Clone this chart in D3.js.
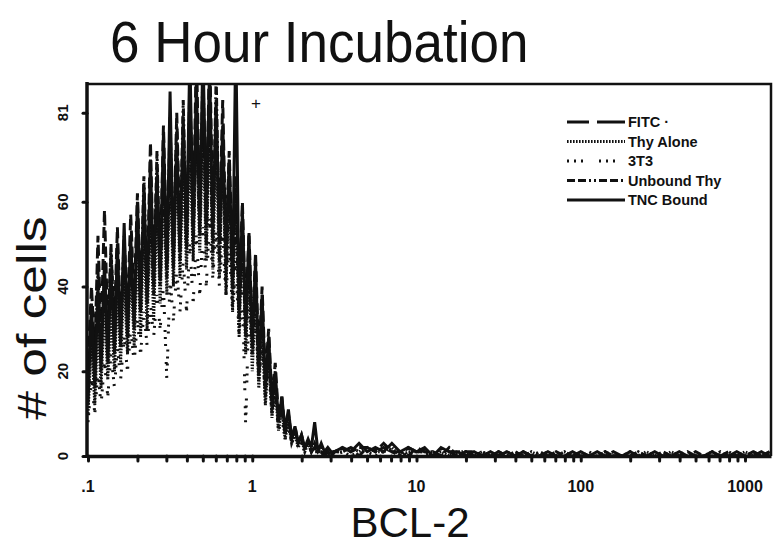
<!DOCTYPE html>
<html>
<head>
<meta charset="utf-8">
<script src="https://d3js.org/d3.v7.min.js"></script>
<style>
  body { margin: 0; background: #fff; }
  svg { display: block; }
  text { font-family: "Liberation Sans", Arial, sans-serif; fill: #111; }
</style>
</head>
<body>
<svg id="chart" width="773" height="546"></svg>
<script>
// BCL-2 fluorescence channels (log scale), fine steps over the peak, coarser tail
var bcl2 = [
  0.100, 0.105, 0.110, 0.115, 0.120, 0.126, 0.132, 0.138, 0.145, 0.151,
  0.158, 0.166, 0.174, 0.182, 0.191, 0.200, 0.209, 0.219, 0.229, 0.240,
  0.251, 0.263, 0.275, 0.288, 0.302, 0.316, 0.331, 0.347, 0.363, 0.380,
  0.398, 0.417, 0.437, 0.457, 0.479, 0.501, 0.525, 0.550, 0.575, 0.603,
  0.631, 0.661, 0.692, 0.724, 0.759, 0.794, 0.832, 0.871, 0.912, 0.955,
  1.000, 1.047, 1.096, 1.148, 1.202, 1.259, 1.318, 1.380, 1.445, 1.514,
  1.585, 1.660, 1.738, 1.820, 1.905, 1.995, 2.089, 2.188, 2.291, 2.399,
  2.512, 2.630, 2.754, 2.884, 3.020, 3.162,
  3.55, 3.98, 4.47, 5.01, 5.62, 6.31, 7.08, 7.94, 8.91, 10.0,
  11.2, 12.6, 14.1, 15.8, 17.8, 20.0, 22.4, 25.1, 28.2, 31.6,
  35.5, 39.8, 44.7, 50.1, 56.2, 63.1, 70.8, 79.4, 89.1, 100,
  112, 126, 141, 158, 178, 200, 224, 251, 282, 316,
  355, 398, 447, 501, 562, 631, 708, 794, 891, 1000,
  1122, 1259, 1413
];

// # of cells per channel, one array per sample
var fitc = [
  22, 40, 24, 52, 28, 58, 30, 48, 32, 54,
  30, 50, 34, 57, 36, 62, 38, 58, 40, 74,
  42, 68, 44, 78, 46, 70, 48, 81, 50, 76,
  52, 84, 54, 96, 56, 86, 54, 97, 56, 80,
  52, 84, 48, 72, 44, 66, 38, 60, 32, 53,
  28, 48, 22, 40, 18, 30, 13, 22, 9, 14,
  6, 10, 4, 7, 3, 5, 2, 3, 1, 2, 1, 1, 0, 1, 0, 1,
  1, 2, 0, 2, 1, 3, 1, 1, 0, 2,
  1, 1, 0, 1, 0, 1, 1, 0, 0, 1,
  0, 0, 1, 0, 0, 1, 0, 0, 0, 1,
  0, 0, 0, 1, 0, 0, 1, 0, 0, 0,
  0, 0, 1, 0, 0, 0, 0, 1, 0, 0,
  1, 0, 0
];
var thyAlone = [
  10, 28, 12, 32, 16, 36, 18, 34, 20, 40,
  22, 42, 24, 46, 26, 50, 28, 54, 30, 58,
  32, 60, 36, 64, 38, 68, 40, 72, 42, 70,
  44, 76, 46, 80, 48, 78, 46, 82, 44, 76,
  42, 72, 38, 68, 34, 64, 28, 56, 24, 46,
  20, 38, 16, 30, 12, 24, 9, 16, 6, 11,
  4, 8, 3, 5, 2, 4, 1, 3, 1, 2, 1, 1, 0, 1, 0, 1,
  1, 2, 1, 2, 1, 1, 2, 0, 1, 1,
  1, 0, 1, 0, 1, 1, 0, 1, 0, 0,
  1, 0, 0, 1, 0, 0, 0, 1, 0, 0,
  0, 0, 1, 0, 0, 0, 0, 1, 0, 0,
  1, 0, 0, 0, 0, 1, 0, 0, 0, 1,
  0, 0, 1
];
var t3t3 = [
  8, 18, 10, 20, 12, 22, 14, 24, 16, 26,
  18, 28, 20, 30, 22, 32, 24, 34, 26, 36,
  28, 38, 30, 40, 18, 42, 32, 44, 34, 46,
  34, 50, 36, 52, 38, 54, 40, 56, 42, 54,
  40, 52, 38, 50, 34, 46, 28, 40, 7, 36,
  24, 32, 18, 26, 14, 20, 10, 14, 6, 9,
  4, 7, 3, 5, 2, 3, 1, 2, 1, 1, 1, 1, 0, 1, 0, 0,
  1, 0, 1, 1, 0, 1, 0, 1, 0, 1,
  0, 1, 0, 0, 1, 0, 0, 1, 0, 0,
  0, 1, 0, 0, 0, 0, 1, 0, 0, 0,
  1, 0, 0, 0, 0, 0, 1, 0, 0, 0,
  0, 1, 0, 0, 0, 0, 0, 1, 0, 0,
  0, 0, 1
];
var unboundThy = [
  16, 34, 18, 44, 22, 42, 24, 50, 26, 46,
  28, 52, 30, 48, 32, 56, 34, 66, 36, 62,
  38, 72, 40, 70, 42, 80, 44, 78, 46, 84,
  48, 88, 50, 82, 52, 92, 50, 86, 48, 90,
  46, 76, 42, 66, 38, 62, 32, 54, 28, 48,
  24, 42, 18, 34, 14, 26, 10, 18, 7, 12,
  5, 9, 4, 6, 3, 4, 2, 3, 1, 3, 1, 2, 1, 1, 0, 1,
  2, 1, 2, 2, 1, 2, 1, 0, 2, 1,
  1, 1, 0, 2, 0, 1, 0, 1, 0, 1,
  0, 1, 0, 0, 1, 0, 1, 0, 0, 1,
  0, 0, 1, 0, 0, 1, 0, 0, 0, 1,
  0, 0, 0, 1, 0, 0, 1, 0, 0, 0,
  1, 0, 1
];
var tncBound = [
  12, 36, 16, 40, 20, 46, 22, 44, 24, 50,
  26, 55, 28, 52, 30, 60, 34, 64, 36, 70,
  40, 66, 42, 76, 44, 86, 46, 74, 48, 80,
  50, 95, 52, 88, 54, 96, 56, 92, 52, 84,
  50, 78, 46, 70, 40, 99, 34, 58, 30, 52,
  26, 46, 20, 38, 16, 28, 12, 20, 8, 14,
  6, 11, 4, 7, 3, 5, 2, 4, 2, 8, 1, 3, 1, 2, 1, 1,
  2, 1, 3, 1, 2, 1, 3, 1, 2, 1,
  2, 0, 2, 1, 1, 0, 1, 0, 1, 0,
  1, 0, 1, 0, 0, 1, 0, 0, 1, 0,
  0, 1, 0, 0, 0, 1, 0, 0, 1, 0,
  0, 1, 0, 0, 0, 1, 0, 0, 1, 0,
  0, 1, 0
];

var seriesNames = ["FITC \u00b7", "Thy Alone", "3T3", "Unbound Thy", "TNC Bound"];
var seriesValues = [fitc, thyAlone, t3t3, unboundThy, tncBound];
var seriesDash = ["11,5", "1.6,1.4", "2,5,2,5,2,16", "8,3,8,3,2,3,2,3", null];

var xTicks = [0.1, 1, 10, 100, 1000];
var xTickLabels = [".1", "1", "10", "100", "1000"];
var xMinorTicks = [0.2, 0.3, 0.4, 0.5, 0.6, 0.7, 0.8, 0.9,
                   2, 3, 4, 5, 6, 7, 8, 9,
                   20, 30, 40, 50, 60, 70, 80, 90,
                   200, 300, 400, 500, 600, 700, 800, 900];
var yTicks = [0, 20, 40, 60, 81];

// plot frame
var plotLeft = 87, plotRight = 771, plotTop = 84, plotBottom = 456;

var svg = d3.select("#chart");
var x = d3.scaleLog().domain([0.1, 1440]).range([plotLeft + 1, plotRight]);
var y = d3.scaleLinear().domain([0, 87.8]).range([plotBottom, plotTop]);

svg.append("clipPath").attr("id", "plotclip")
  .append("rect").attr("x", plotLeft).attr("y", plotTop)
  .attr("width", plotRight - plotLeft).attr("height", plotBottom - plotTop);

// histogram lines
var line = d3.line()
  .x(function(d) { return x(d[0]); })
  .y(function(d) { return y(d[1]); });

var plot = svg.append("g").attr("clip-path", "url(#plotclip)");
seriesValues.forEach(function(vals, k) {
  var pts = bcl2.slice(0, vals.length).map(function(b, i) { return [b, vals[i]]; });
  plot.append("path")
    .datum(pts)
    .attr("d", line)
    .attr("fill", "none")
    .attr("stroke", "#111")
    .attr("stroke-width", 3)
    .attr("stroke-dasharray", seriesDash[k]);
});

// frame top and right
svg.append("path")
  .attr("d", "M" + plotLeft + "," + plotTop + "H" + plotRight + "V" + plotBottom)
  .attr("fill", "none").attr("stroke", "#111").attr("stroke-width", 2.5);

// x axis
var xAxis = svg.append("g")
  .attr("transform", "translate(0," + plotBottom + ")")
  .call(d3.axisBottom(x).tickValues(xMinorTicks.concat(xTicks))
    .tickSize(5).tickSizeOuter(0).tickFormat(""));
xAxis.select(".domain").attr("stroke", "#111").attr("stroke-width", 3.5);
xAxis.selectAll(".tick line").attr("stroke", "#111").attr("stroke-width", 3)
  .attr("stroke-linecap", "round");

svg.append("g").selectAll("text")
  .data(xTicks)
  .enter().append("text")
  .attr("x", function(d) { return x(d); })
  .attr("y", 492)
  .attr("text-anchor", "middle")
  .attr("font-size", 16)
  .attr("font-weight", "bold")
  .text(function(d, i) { return xTickLabels[i]; });

// y axis
var yAxis = svg.append("g")
  .attr("transform", "translate(" + plotLeft + ",0)")
  .call(d3.axisLeft(y).tickValues(yTicks).tickSize(4).tickSizeOuter(0).tickFormat(""));
yAxis.select(".domain").attr("stroke", "#111").attr("stroke-width", 3.5)
  .attr("d", "M0," + (plotTop - 2) + "V" + plotBottom);
yAxis.selectAll(".tick line").attr("stroke", "#111").attr("stroke-width", 3)
  .attr("stroke-linecap", "round");

svg.append("g").selectAll("text")
  .data(yTicks)
  .enter().append("text")
  .attr("transform", function(d) { return "translate(68," + y(d) + ") rotate(-90)"; })
  .attr("text-anchor", "middle")
  .attr("font-size", 15)
  .attr("font-weight", "bold")
  .text(function(d) { return d; });

// titles
svg.append("text")
  .attr("transform", "translate(110,62) scale(1,1.08)")
  .attr("font-size", 53)
  .text("6 Hour Incubation");

svg.append("text")
  .attr("transform", "translate(46,318) rotate(-90) scale(1.12,0.9)")
  .attr("text-anchor", "middle")
  .attr("font-size", 46)
  .text("# of cells");

svg.append("text")
  .attr("x", 410).attr("y", 537)
  .attr("text-anchor", "middle")
  .attr("font-size", 42)
  .text("BCL-2");

svg.append("text")
  .attr("x", 256).attr("y", 109)
  .attr("text-anchor", "middle")
  .attr("font-size", 17)
  .text("+");

// legend
var legend = svg.append("g");
seriesNames.forEach(function(name, k) {
  var ly = 122 + k * 19.5;
  legend.append("line")
    .attr("x1", 567).attr("x2", 625)
    .attr("y1", ly).attr("y2", ly)
    .attr("stroke", "#111").attr("stroke-width", 3)
    .attr("stroke-dasharray", k == 0 ? "22,8,28" : seriesDash[k]);
  legend.append("text")
    .attr("x", 628).attr("y", ly + 5)
    .attr("font-size", 14.5)
    .attr("font-weight", "bold")
    .attr("font-family", "'Liberation Sans Narrow', 'Liberation Sans', sans-serif")
    .text(name);
});
</script>
</body>
</html>
